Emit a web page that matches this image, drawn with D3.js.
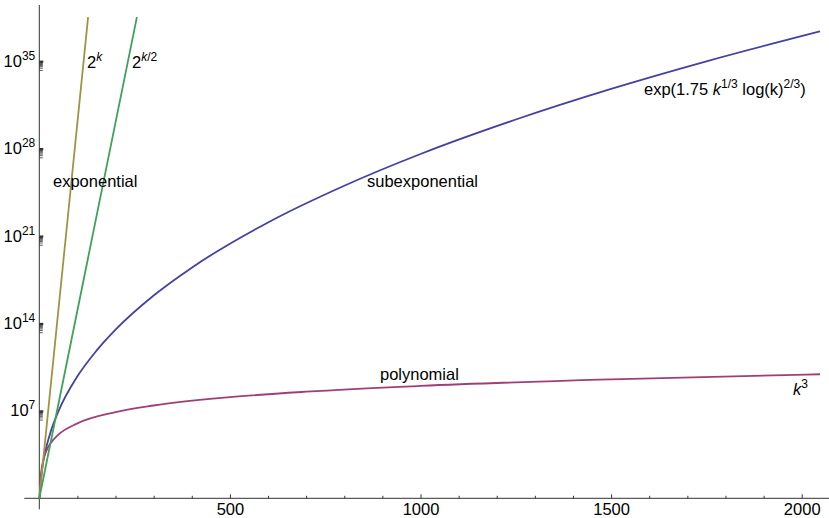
<!DOCTYPE html>
<html>
<head>
<meta charset="utf-8">
<script src="https://cdn.jsdelivr.net/npm/d3@7"></script>
<style>
  body { margin: 0; background: #fff; }
  svg { font-family: "Liberation Sans", Arial, sans-serif; }
  .axis text { font-size: 16.5px; fill: #000; font-family: "Liberation Sans", Arial, sans-serif; }
  .axis line, .axis path { stroke: #333; }
  .lbl { font-size: 16.5px; fill: #000; }
</style>
</head>
<body>
<div id="chart-area"></div>
<script>
// values (y is plotted on a log scale)
let kSub = [1, 2, 3, 5, 10, 20, 30, 50, 100, 150, 200, 300, 400, 600, 800, 1000, 1250, 1500, 1750, 2048];
let subValues = [1, 5.62, 14.7, 60.3, 716, 1.93e4, 2.19e5, 8.95e6, 5.83e9, 6.6e11, 3.21e13, 1.74e16,
                 2.95e18, 1.23e22, 1.07e25, 3.72e27, 2.14e30, 6.03e32, 9.77e34, 2.45e37];

let kPoly = [1, 2, 3, 5, 10, 20, 30, 50, 100, 200, 300, 500, 700, 1000, 1500, 2048];
let polyValues = [1, 8, 27, 125, 1000, 8000, 2.7e4, 1.25e5, 1e6, 8e6, 2.7e7, 1.25e8, 3.43e8, 1e9, 3.375e9, 8.59e9];

let kExp = [0, 64, 128];
let expValues = [1, 1.84e19, 3.4e38];

let kHalf = [0, 128, 256];
let halfValues = [1, 1.84e19, 3.4e38];

let xMajor = [500, 1000, 1500, 2000];
let xMinor = [100, 200, 300, 400, 600, 700, 800, 900, 1100, 1200, 1300, 1400, 1600, 1700, 1800, 1900];
let yPowers = [7, 14, 21, 28, 35];

let width = 829;
let height = 518;

let svg = d3.select("#chart-area")
            .append("svg")
            .attr("width", width)
            .attr("height", height);

let x = d3.scaleLinear()
        .domain([0, 2070])
        .range([39.3, 828.4]);

let y = d3.scaleLog()
        .domain([1, Math.pow(10, 39.5)])
        .range([498.3, 5]);

// axis lines (stick out a little past the origin, like the original)
svg.append("line")
    .attr("x1", x(0) - 15).attr("x2", width)
    .attr("y1", y(1)).attr("y2", y(1))
    .attr("stroke", "#333");
svg.append("line")
    .attr("x1", x(0)).attr("x2", x(0))
    .attr("y1", y.range()[1]).attr("y2", y(1) + 11)
    .attr("stroke", "#333");

// x axis: ticks point up into the plot
let xAxis = d3.axisBottom(x)
    .tickValues(xMajor)
    .tickSize(-4)
    .tickSizeOuter(0)
    .tickPadding(5)
    .tickFormat(d3.format("d"));
let xg = svg.append("g")
    .attr("class", "axis")
    .attr("transform", "translate(0," + y(1) + ")")
    .call(xAxis);
xg.select(".domain").remove();

let xAxisMinor = d3.axisBottom(x)
    .tickValues(xMinor)
    .tickSize(-2.5)
    .tickSizeOuter(0)
    .tickFormat("");
let xmg = svg.append("g")
    .attr("class", "axis")
    .attr("transform", "translate(0," + y(1) + ")")
    .call(xAxisMinor);
xmg.select(".domain").remove();

// y axis: major ticks at labelled decades, minor ticks just below them
let yAxis = d3.axisLeft(y)
    .tickValues(yPowers.map(p => Math.pow(10, p)))
    .tickSize(-4)
    .tickSizeOuter(0)
    .tickFormat("");
let yg = svg.append("g")
    .attr("class", "axis")
    .attr("transform", "translate(" + x(0) + ",0)")
    .call(yAxis);
yg.select(".domain").remove();
yg.selectAll(".tick line").attr("stroke", "#000").attr("stroke-width", 2.2);

yg.selectAll(".tick").each(function(d, i) {
    let t = d3.select(this).append("text")
        .attr("x", -4)
        .attr("y", 5)
        .attr("text-anchor", "end");
    t.append("tspan").text("10");
    t.append("tspan").attr("dy", -7).attr("font-size", "12px").text(yPowers[i]);
});

let minorVals = [];
yPowers.forEach(p => {
    for (let m = 2; m <= 9; m++) minorVals.push(m * Math.pow(10, p - 1));
});
let yAxisMinor = d3.axisLeft(y)
    .tickValues(minorVals)
    .tickSize(-3.5)
    .tickSizeOuter(0)
    .tickFormat("");
let ymg = svg.append("g")
    .attr("class", "axis")
    .attr("transform", "translate(" + x(0) + ",0)")
    .call(yAxisMinor);
ymg.select(".domain").remove();
ymg.selectAll(".tick line").attr("stroke", "#555").attr("stroke-width", 0.8);

// curves
let series = [
    {k: kSub, v: subValues, color: "#4442a0"},
    {k: kPoly, v: polyValues, color: "#a03f76"},
    {k: kExp, v: expValues, color: "#a09444"},
    {k: kHalf, v: halfValues, color: "#3fa25a"}
];

let line = d3.line()
    .x(d => x(d[0]))
    .y(d => y(d[1]))
    .curve(d3.curveMonotoneX);

series.forEach(s => {
    svg.append("path")
        .datum(s.k.map((k, i) => [k, s.v[i]]))
        .attr("d", line)
        .attr("fill", "none")
        .attr("stroke", s.color)
        .attr("stroke-width", 1.8)
        .attr("stroke-linejoin", "round");
});

// labels
function label(px, py, parts) {
    let t = svg.append("text").attr("class", "lbl").attr("x", px).attr("y", py);
    parts.forEach(p => {
        let ts = t.append("tspan").text(p.t);
        if (p.sup) ts.attr("font-size", "12px");
        if (p.dy) ts.attr("dy", p.dy);
        if (p.it) ts.attr("font-style", "italic");
    });
    return t;
}

label(87, 68, [{t: "2"}, {t: "k", sup: true, it: true, dy: -7}]);
label(132, 68, [{t: "2"}, {t: "k", sup: true, it: true, dy: -7}, {t: "/2", sup: true}]);
label(53, 187, [{t: "exponential"}]);
label(367, 187, [{t: "subexponential"}]);
label(380, 380, [{t: "polynomial"}]);
label(644, 95, [
    {t: "exp(1.75 "},
    {t: "k", it: true},
    {t: "1/3", sup: true, dy: -7},
    {t: " log(k)", dy: 7},
    {t: "2/3", sup: true, dy: -7},
    {t: ")", dy: 7}
]);
label(793, 395, [{t: "k", it: true}, {t: "3", sup: true, dy: -7}]);
</script>
</body>
</html>
